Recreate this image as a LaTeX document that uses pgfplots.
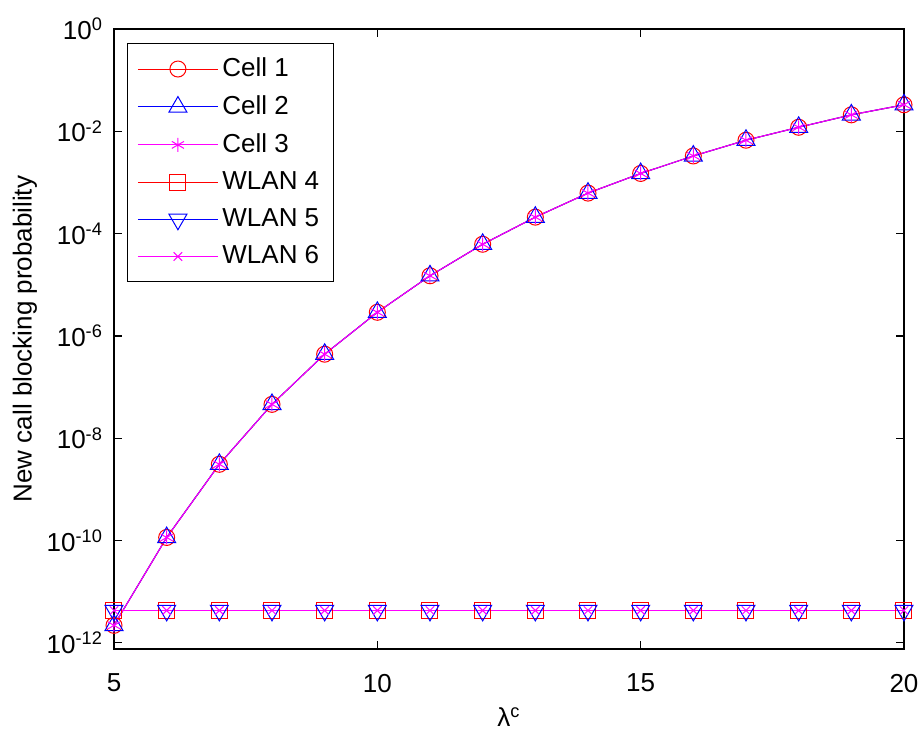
\documentclass[border=0pt]{standalone}
\usepackage{pgfplots}
\pgfplotsset{compat=1.18}
\usepackage{fontspec}
\setmainfont{Liberation Sans}
\definecolor{mred}{rgb}{1,0,0}
\definecolor{mblue}{rgb}{0,0,1}
\definecolor{mmag}{rgb}{1,0,1}
\pgfplotstableread{
x y
5 2.2e-12
6 1.15e-10
7 3.1e-9
8 4.6e-8
9 4.4e-7
10 2.9e-6
11 1.5e-5
12 6.2e-5
13 2.1e-4
14 6.2e-4
15 1.5e-3
16 3.3e-3
17 6.7e-3
18 1.2e-2
19 2.1e-2
20 3.3e-2
}\celldata
\pgfplotstableread{
x y
5 4.3e-12
6 4.3e-12
7 4.3e-12
8 4.3e-12
9 4.3e-12
10 4.3e-12
11 4.3e-12
12 4.3e-12
13 4.3e-12
14 4.3e-12
15 4.3e-12
16 4.3e-12
17 4.3e-12
18 4.3e-12
19 4.3e-12
20 4.3e-12
}\wlandata
\begin{document}
\fontsize{13}{15}\selectfont
\begin{tikzpicture}
\path[use as bounding box] (-57pt,-41pt) rectangle (402pt,324.5pt);
\begin{axis}[
  scale only axis,
  width=395pt, height=310pt,
  at={(0,0)}, anchor=south west,
  ymode=log,
  xmin=5, xmax=20,
  ymin=7.6e-13, ymax=1,
  xtick={5,10,15,20},
  ytick={1e-12,1e-10,1e-8,1e-6,1e-4,1e-2,1},
  yticklabels={10\textsuperscript{-12},10\textsuperscript{-10},10\textsuperscript{-8},10\textsuperscript{-6},10\textsuperscript{-4},10\textsuperscript{-2},10\textsuperscript{0}},
  minor tick num=0,
  yminorticks=false,
  tick pos=both,
  tick align=inside,
  major tick length=4pt,
  axis line style={line width=0.6pt},
  every tick/.style={line width=0.6pt, black},
  /pgf/number format/assume math mode=true,
  xticklabel style={yshift=-8pt},
  yticklabel style={xshift=-1pt},
  xlabel={λ\textsuperscript{c}},
  ylabel={New call blocking probability},
  xlabel style={yshift=1.5pt},
  ylabel style={yshift=-4pt},
  legend cell align=left,
  legend style={at={(0.0165,0.977)}, anchor=north west,
    row sep=3.6pt, inner xsep=5pt, inner ysep=5pt,
    nodes={inner sep=2pt}},
  legend image code/.code={
    \draw[mark repeat=2,mark phase=2,#1] plot coordinates {(0pt,0pt) (20pt,0pt) (40pt,0pt)};
  },
]
\addplot[color=mred, line width=0.5pt, mark=o, mark size=4pt, mark options={solid}] table[x=x,y=y] {\celldata};
\addlegendentry{Cell 1}
\addplot[color=mblue, line width=0.5pt, mark=triangle, mark size=5.2pt, mark options={solid}] table[x=x,y=y] {\celldata};
\addlegendentry{Cell 2}
\addplot[color=mmag, line width=0.5pt, mark=asterisk, mark size=3.5pt, mark options={solid}] table[x=x,y=y] {\celldata};
\addlegendentry{Cell 3}
\addplot[color=mred, line width=0.5pt, mark=square, mark size=4pt, mark options={solid}] table[x=x,y=y] {\wlandata};
\addlegendentry{WLAN 4}
\addplot[color=mblue, line width=0.5pt, mark=triangle, mark size=5.2pt, mark options={solid, rotate=180}] table[x=x,y=y] {\wlandata};
\addlegendentry{WLAN 5}
\addplot[color=mmag, line width=0.5pt, mark=x, mark size=3pt, mark options={solid}] table[x=x,y=y] {\wlandata};
\addlegendentry{WLAN 6}
\end{axis}
\end{tikzpicture}
\end{document}
